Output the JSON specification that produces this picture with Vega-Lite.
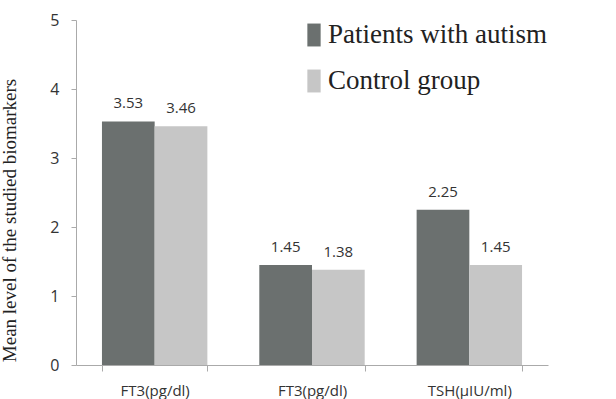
{
  "$schema": "https://vega.github.io/schema/vega-lite/v6.json",
  "autosize": {"type": "none"},
  "padding": {"left": 76, "top": 20, "right": 68, "bottom": 34},
  "width": 472,
  "height": 345,
  "background": "white",
  "config": {"view": {"stroke": null}},
  "data": {
    "values": [
      {"pos": 1, "marker": "FT3(pg/dl)", "group": "Patients with autism", "value": 3.53},
      {"pos": 1, "marker": "FT3(pg/dl)", "group": "Control group", "value": 3.46},
      {"pos": 2, "marker": "FT3(pg/dl)", "group": "Patients with autism", "value": 1.45},
      {"pos": 2, "marker": "FT3(pg/dl)", "group": "Control group", "value": 1.38},
      {"pos": 3, "marker": "TSH(µIU/ml)", "group": "Patients with autism", "value": 2.25},
      {"pos": 3, "marker": "TSH(µIU/ml)", "group": "Control group", "value": 1.45}
    ]
  },
  "encoding": {
    "x": {
      "field": "pos", "type": "ordinal",
      "scale": {"paddingInner": 0.33, "paddingOuter": 0.165},
      "axis": {
        "title": null, "labelAngle": 0,
        "labelExpr": "['FT3(pg/dl)','FT3(pg/dl)','TSH(µIU/ml)'][datum.value-1]",
        "labelFont": "Open Sans", "labelFontSize": 15, "labelColor": "#333",
        "labelPadding": 12,
        "tickBand": "extent", "tickSize": 6, "tickColor": "#aaa",
        "domainColor": "#aaa"
      }
    },
    "xOffset": {"field": "group", "type": "nominal", "sort": ["Patients with autism", "Control group"]},
    "y": {
      "field": "value", "type": "quantitative",
      "scale": {"domain": [0, 5]},
      "axis": {
        "title": "Mean level of the studied biomarkers",
        "titleFont": "Liberation Serif", "titleFontSize": 19, "titleFontWeight": "normal", "titleColor": "#222",
        "titlePadding": 30, "titleY": 200,
        "values": [0, 1, 2, 3, 4, 5], "format": "d",
        "grid": false,
        "labelFont": "Open Sans", "labelFontSize": 16, "labelColor": "#333",
        "labelPadding": 12,
        "tickSize": 5, "tickColor": "#aaa", "domainColor": "#aaa"
      }
    }
  },
  "layer": [
    {
      "mark": {"type": "bar"},
      "encoding": {
        "color": {
          "field": "group", "type": "nominal",
          "sort": ["Patients with autism", "Control group"],
          "scale": {"domain": ["Patients with autism", "Control group"], "range": ["#6b706f", "#c6c6c6"]},
          "legend": {
            "title": null, "orient": "none", "legendX": 215, "legendY": -8,
            "symbolType": "M-0.29,-0.5H0.29V0.5H-0.29Z", "symbolSize": 2100,
            "symbolStrokeWidth": 0,
            "labelFont": "Liberation Serif", "labelFontSize": 27, "labelColor": "#222",
            "labelOffset": -9, "rowPadding": 10, "labelLimit": 400
          }
        }
      }
    },
    {
      "mark": {"type": "text", "dy": -18, "font": "Open Sans", "fontSize": 15, "color": "#333"},
      "encoding": {
        "text": {"field": "value", "type": "quantitative", "format": ".2f"}
      }
    }
  ]
}
